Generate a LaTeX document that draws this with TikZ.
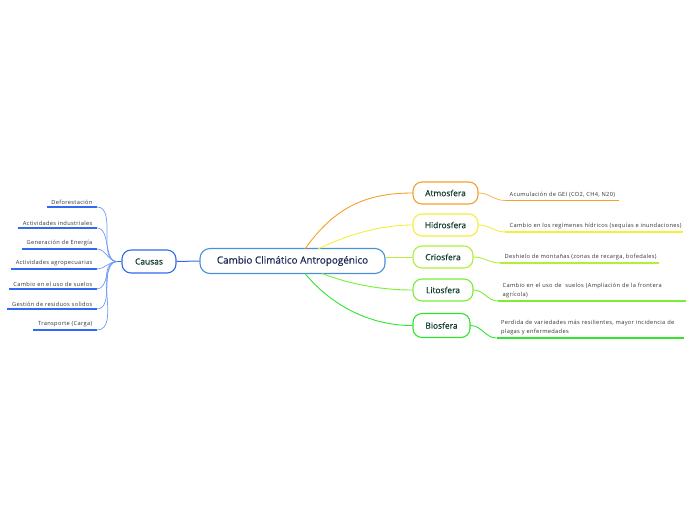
\documentclass[tikz,border=0pt]{standalone}
\usepackage{fontspec}
\setmainfont{Open Sans}
\newfontfamily\semib[FakeBold=0.5]{Open Sans}
\newfontfamily\leaffont[LetterSpace=5.5]{Open Sans}
\begin{document}
\begin{tikzpicture}[x=1pt,y=-1pt,
  mainbox/.style={draw=mainblue, line width=1.1pt, rounded corners=10pt, fill=white,
     minimum width=185pt, minimum height=25pt, inner sep=0pt,
     font=\semib\fontsize{9.9}{11}\selectfont, text=navy},
  topic/.style={line width=1.1pt, rounded corners=9pt, fill=white,
     minimum height=22pt, inner sep=0pt, font=\semib\fontsize{8.4}{10}\selectfont, text=dkgreen},
  leafL/.style={anchor=south east, inner xsep=4.5pt, inner ysep=2.5pt,
     font=\leaffont\fontsize{5.7}{9}\selectfont, text=txtgray},
  leafR/.style={anchor=south west, inner xsep=4.5pt, inner ysep=2.5pt, align=left,
     font=\leaffont\fontsize{5.7}{9}\selectfont, text=txtgray},
  uline/.style={line width=1.5pt},
  conn/.style={line width=0.9pt},
]
\definecolor{mainblue}{HTML}{4A90D9}
\definecolor{causeblue}{HTML}{2F6BF0}
\definecolor{lblue}{HTML}{6E9BF5}
\definecolor{navy}{HTML}{1C2B55}
\definecolor{dkgreen}{HTML}{0F3D2E}
\definecolor{txtgray}{HTML}{333333}
\definecolor{corange}{HTML}{F5A02A}
\definecolor{cyellow}{HTML}{F5EE3A}
\definecolor{clime}{HTML}{B2EE3A}
\definecolor{cgreen}{HTML}{7BEE33}
\definecolor{cbgreen}{HTML}{2EE62E}
\useasboundingbox (0,0) rectangle (696,520);

% main
\node[mainbox] (main) at (292.5,261) {Cambio Climático Antropogénico};
\node[topic, draw=causeblue, minimum width=54pt, minimum height=23pt] (causas) at (149,261.5) {Causas};

% right topics
\node[topic, draw=corange, minimum width=65pt] (atm) at (445.5,193) {Atmosfera};
\node[topic, draw=cyellow, minimum width=65pt] (hid) at (445.5,225) {Hidrosfera};
\node[topic, draw=clime, minimum width=60pt] (cri) at (443,257) {Criosfera};
\node[topic, draw=cgreen, minimum width=60pt] (lit) at (443,290) {Litosfera};
\node[topic, draw=cbgreen, minimum width=57pt, minimum height=24pt] (bio) at (441.5,325.5) {Biosfera};

% main connectors
\coordinate (mo) at (305,249);
\coordinate (my) at (318,249);
\coordinate (ml) at (322,273.5);
\coordinate (mb) at (305,273.5);
\draw[conn, draw=corange] (mo) .. controls (335,206) and (368,193) .. (atm.west);
\draw[conn, draw=cyellow] (my) .. controls (345,236) and (378,225) .. (hid.west);
\draw[conn, draw=clime] (main.east |- cri.west) -- (cri.west);
\draw[conn, draw=cgreen] (ml) .. controls (352,285) and (383,290) .. (lit.west);
\draw[conn, draw=cbgreen] (mb) .. controls (332,306) and (370,325.5) .. (bio.west);
\draw[line width=1pt, draw=causeblue] (causas.east) -- (main.west);

% right leaves
\node[leafR] (l1) at (505,200.5) {Acumulación de GEI (CO2, CH4, N20)};
\node[leafR] (l2) at (505,232) {Cambio en los regímenes hídricos (sequías e inundaciones)};
\node[leafR] (l3) at (500,263) {Deshielo de montañas (zonas de recarga, bofedales)};
\node[leafR, text width=180pt] (l4) at (498,301) {Cambio en el uso de\ \ suelos (Ampliación de la frontera\\ agrícola)};
\node[leafR, text width=178pt] (l5) at (496.5,338) {Perdida de variedades más resilientes, mayor incidencia de\\plagas y enfermedades};

\draw[uline, draw=corange] (l1.south west) -- (619,200.5);
\draw[uline, draw=cyellow] (l2.south west) -- (683,232);
\draw[uline, draw=clime] (l3.south west) -- (659,263);
\draw[uline, draw=cgreen] (l4.south west) -- (686,301);
\draw[uline, draw=cbgreen] (l5.south west) -- (684,338);

\draw[conn, draw=corange!70!white] (atm.east) to[out=0,in=180] (l1.south west);
\draw[conn, draw=cyellow] (hid.east) to[out=0,in=180] (l2.south west);
\draw[conn, draw=clime] (cri.east) to[out=0,in=180] (l3.south west);
\draw[conn, draw=cgreen] (lit.east) to[out=0,in=180] (l4.south west);
\draw[conn, draw=cbgreen] (bio.east) to[out=0,in=180] (l5.south west);

% left leaves
\node[leafL] (c1) at (97,207) {Deforestación};
\node[leafL] (c2) at (97,228) {Actividades industriales};
\node[leafL] (c3) at (97,249) {Generación de Energía};
\node[leafL] (c4) at (97,269) {Actividades agropecuarias};
\node[leafL] (c5) at (97,289) {Cambio en el uso de suelos};
\node[leafL] (c6) at (97,309) {Gestión de residuos solidos};
\node[leafL] (c7) at (97,330) {Transporte (Carga)};
\coordinate (cj) at (117,261.5);
\draw[line width=1pt, draw=causeblue] (cj) -- (causas.west);
\foreach \n in {c1,c2,c3,c4,c5,c6,c7}{
  \draw[uline, draw=causeblue] (\n.south west) -- (\n.south east);
  \draw[line width=0.7pt, draw=lblue] (cj) to[out=180,in=0,looseness=0.9] (\n.south east);
}
\end{tikzpicture}
\end{document}
